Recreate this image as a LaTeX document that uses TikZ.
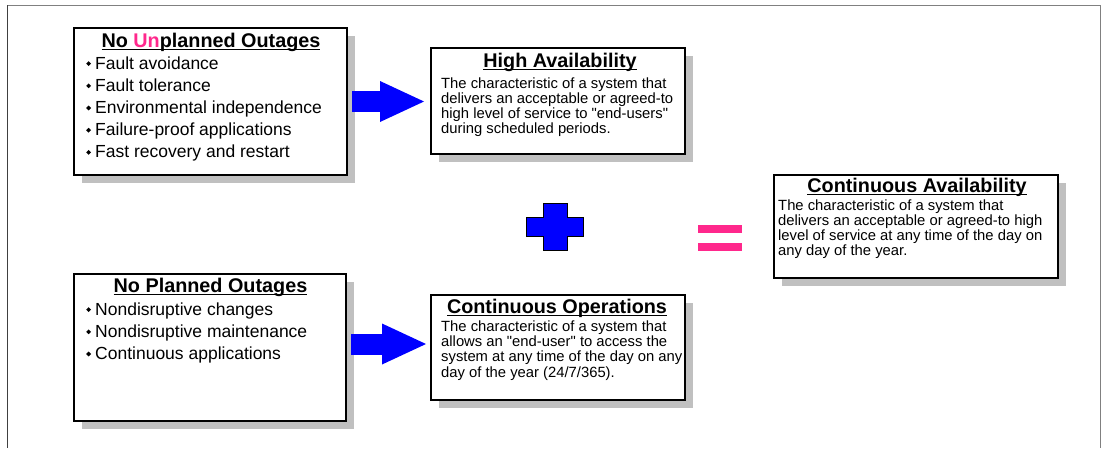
\documentclass[tikz,border=0pt]{standalone}
\usepackage{fontspec}
\setmainfont{Liberation Sans}
\usepackage{graphicx}
\usetikzlibrary{arrows.meta,shadows}

\definecolor{hotpink}{RGB}{255,40,140}
\definecolor{arrowblue}{RGB}{0,0,255}
\definecolor{shadowgray}{RGB}{192,192,192}
\definecolor{framegray}{RGB}{128,128,128}

% small black diamond used as list bullet
\newcommand\bulletmark{\raisebox{3pt}{\rotatebox{45}{\rule{3.4pt}{3.4pt}}}\hspace{4.2pt}}
% heading text with a rule close under the baseline
\newcommand\titleuline[1]{\setbox0=\hbox{#1}\rlap{\rule[-3.2pt]{\wd0}{1.6pt}}\box0}
% straight double quote
\newcommand\sq{\textquotedbl}

\tikzset{
  panel/.style={draw=black, line width=2pt, fill=white, inner sep=0pt,
    drop shadow={shadow xshift=8pt, shadow yshift=-8pt, fill=shadowgray, opacity=1}},
  ttl/.style={font=\fontsize{19.8}{22}\selectfont\bfseries, inner sep=0pt, anchor=base},
  itm/.style={font=\fontsize{17.5}{22}\selectfont, inner sep=0pt, anchor=base west},
  dsc/.style={font=\fontsize{14.8}{15.3}\selectfont, inner sep=0pt, anchor=base west},
  bigarrow/.style={draw=arrowblue, line width=21pt,
    -{Triangle[length=44pt, width=41pt, line width=0pt]}},
}

\begin{document}
\begin{tikzpicture}[x=1pt, y=-1pt]
\useasboundingbox (0,0) rectangle (1101,448);

% page frame
\draw[framegray, line width=1pt] (7,5) -- (1100,5) -- (1100,448);
\draw[black!75, line width=0.8pt] (7,5) -- (7,448);

% panels
\node[panel, minimum width=273pt, minimum height=147pt] (unpl) at (210.5,101.5) {};
\node[panel, minimum width=254pt, minimum height=106pt] (ha)   at (558,101) {};
\node[panel, minimum width=284pt, minimum height=103pt] (ca)   at (916,226.5) {};
\node[panel, minimum width=272pt, minimum height=147pt] (plan) at (210,347.5) {};
\node[panel, minimum width=254pt, minimum height=105pt] (co)   at (558,347.5) {};

% No Unplanned Outages
\node[ttl] (unplT) at (211,47) {\titleuline{No \textcolor{hotpink}{Un}planned Outages}};
\foreach \t [count=\i] in {{Fault avoidance},{Fault tolerance},{Environmental independence},
    {Failure-proof applications},{Fast recovery and restart}}
  \node[itm] (unpl\i) at (86,{69+22.2*(\i-1)}) {\bulletmark\t};

% High Availability
\node[ttl] (haT) at (560,67) {\titleuline{High Availability}};
\foreach \t [count=\i] in {{The characteristic of a system that},
    {delivers an acceptable or agreed-to},
    {high level of service to \sq end-users\sq},
    {during scheduled periods.}}
  \node[dsc] (ha\i) at (441,{88+15.3*(\i-1)}) {\t};

% Continuous Availability
\node[ttl] (caT) at (917,192) {\titleuline{Continuous Availability}};
\foreach \t [count=\i] in {{The characteristic of a system that},
    {delivers an acceptable or agreed-to high},
    {level of service at any time of the day on},
    {any day of the year.}}
  \node[dsc] (ca\i) at (778,{210+15.3*(\i-1)}) {\t};

% No Planned Outages
\node[ttl] (planT) at (210.5,292) {\titleuline{No Planned Outages}};
\foreach \t [count=\i] in {{Nondisruptive changes},{Nondisruptive maintenance},
    {Continuous applications}}
  \node[itm] (plan\i) at (86,{315+22.2*(\i-1)}) {\bulletmark\t};

% Continuous Operations
\node[ttl] (coT) at (557,313) {\titleuline{Continuous Operations}};
\foreach \t [count=\i] in {{The characteristic of a system that},
    {allows an \sq end-user\sq{} to access the},
    {system at any time of the day on any},
    {day of the year (24/7/365).}}
  \node[dsc] (co\i) at (441,{331.7+15.1*(\i-1)}) {\t};

% block arrows
\draw[bigarrow] ([xshift=4pt]unpl.east) -- ([xshift=-6pt]ha.west |- unpl.east);
\draw[bigarrow] ([xshift=4pt,yshift=3.5pt]plan.east) -- ([xshift=-4pt,yshift=3.5pt]co.west);

% plus sign
\filldraw[fill=arrowblue, draw=black, line width=0.8pt]
  (543,203) -- (567,203) -- (567,217) -- (583,217) -- (583,236) -- (567,236)
  -- (567,250) -- (543,250) -- (543,236) -- (526,236) -- (526,217) -- (543,217) -- cycle;

% equals sign
\fill[hotpink] (698,225) rectangle (742,233);
\fill[hotpink] (698,243) rectangle (742,251);
\end{tikzpicture}
\end{document}
